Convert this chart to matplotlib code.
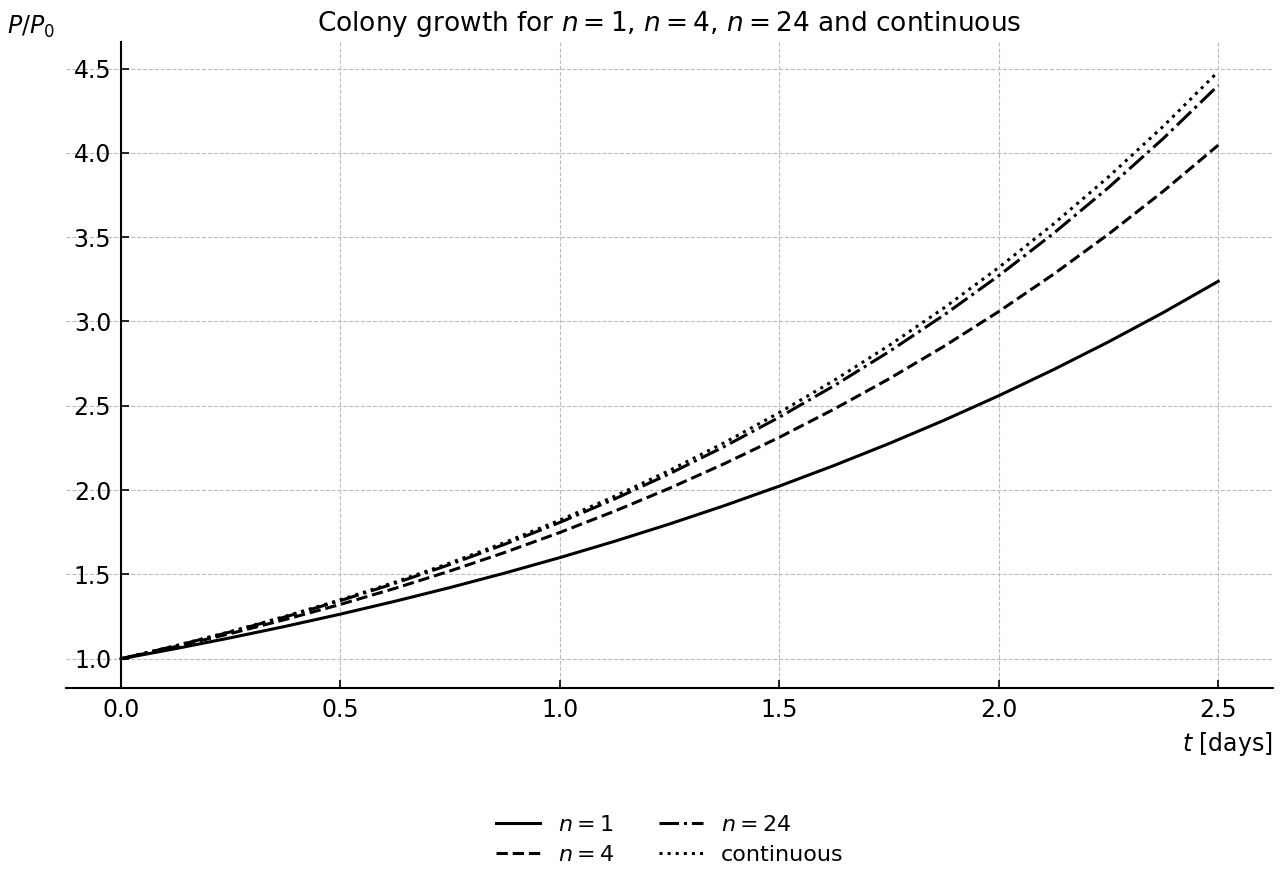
import matplotlib
matplotlib.use('Agg')
import matplotlib.pyplot as plt

# time samples [days]
t = [0.0, 0.125, 0.25, 0.375, 0.5, 0.625, 0.75, 0.875, 1.0, 1.125, 1.25,
     1.375, 1.5, 1.625, 1.75, 1.875, 2.0, 2.125, 2.25, 2.375, 2.5]

p_n1 = [1.000, 1.0605, 1.1247, 1.1927, 1.2649, 1.3415, 1.4226, 1.5087, 1.600,
        1.6968, 1.7995, 1.9083, 2.0239, 2.1464, 2.2762, 2.4139, 2.560, 2.7149,
        2.8792, 3.0533, 3.2382]
p_n4 = [1.000, 1.0724, 1.150, 1.2333, 1.3225, 1.4182, 1.5209, 1.6310, 1.7490,
        1.8756, 2.0114, 2.1570, 2.3131, 2.4806, 2.6600, 2.8526, 3.0590, 3.2805,
        3.5179, 3.7726, 4.0456]
p_n24 = [1.000, 1.0769, 1.1597, 1.2489, 1.3449, 1.4483, 1.5597, 1.6796, 1.8087,
         1.9478, 2.0976, 2.2588, 2.4326, 2.6196, 2.8210, 3.0379, 3.2715, 3.5230,
         3.7939, 4.0856, 4.3998]
p_cont = [1.000, 1.0779, 1.1618, 1.2523, 1.3499, 1.4550, 1.5683, 1.6905, 1.8221,
          1.9640, 2.1170, 2.2818, 2.4596, 2.6512, 2.8577, 3.0802, 3.3201, 3.5787,
          3.8574, 4.1579, 4.4817]

fig = plt.figure(figsize=(12.8, 8.8), dpi=100)
ax = fig.add_axes([0.0516, 0.218, 0.943, 0.734])

ax.plot(t, p_n1, 'k-', lw=2.2, label='$n = 1$')
ax.plot(t, p_n4, 'k--', lw=2.2, label='$n = 4$')
ax.plot(t, p_n24, 'k-.', lw=2.2, label='$n = 24$')
ax.plot(t, p_cont, 'k:', lw=2.2, label='continuous')

ax.spines['top'].set_visible(False)
ax.spines['right'].set_visible(False)
ax.spines['left'].set_position(('data', 0))
ax.spines['left'].set_linewidth(1.5)
ax.spines['bottom'].set_linewidth(1.5)

ax.set_xticks([0.0, 0.5, 1.0, 1.5, 2.0, 2.5])
ax.set_yticks([1.0, 1.5, 2.0, 2.5, 3.0, 3.5, 4.0, 4.5])
ax.tick_params(direction='in', labelsize=17, length=6, width=1.2, pad=7)
ax.grid(True, ls='--', color='#bbbbbb', lw=0.8)

ax.set_title('Colony growth for $n = 1$, $n = 4$, $n = 24$ and continuous',
             fontsize=19, pad=8)
ax.set_xlabel('$t$ [days]', fontsize=17, loc='right', labelpad=6)
ax.set_ylabel('$P/P_0$', fontsize=17, rotation=0)
ax.yaxis.set_label_coords(-0.029, 1.003)
ax.yaxis.label.set_verticalalignment('bottom')

ax.legend(loc='upper center', bbox_to_anchor=(0.5, -0.165), ncol=2,
          frameon=False, fontsize=16, handlelength=2.0, columnspacing=2.0,
          labelspacing=0.45)

fig.savefig('out.png', dpi=100)
